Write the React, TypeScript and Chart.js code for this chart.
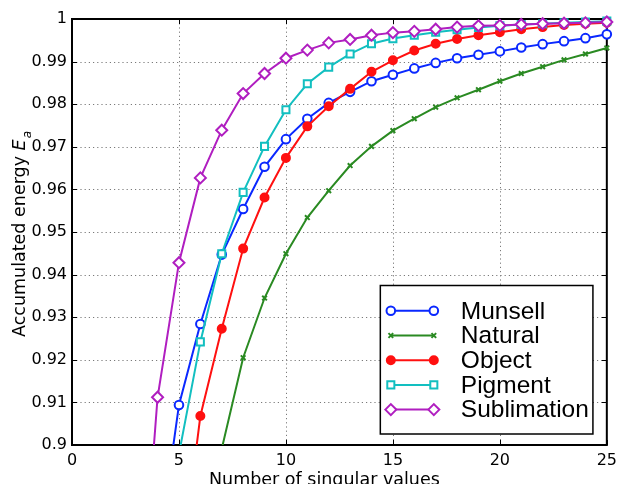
import React, { useEffect, useRef } from 'react';
import { Chart, registerables } from 'chart.js';

Chart.register(...registerables);

// ---------- data ----------
const singularValues = [3, 4, 5, 6, 7, 8, 9, 10, 11, 12, 13, 14, 15, 16, 17, 18, 19, 20, 21, 22, 23, 24, 25];

const munsell = [null, 0.8733, 0.9094, 0.9284, 0.9447, 0.9554, 0.9653, 0.9718, 0.9766, 0.9803, 0.9829, 0.9854, 0.9869, 0.9884, 0.9897, 0.9908, 0.9916, 0.9924, 0.9933, 0.9941, 0.9948, 0.9955, 0.9964];
const natural = [null, null, null, null, 0.8991, 0.9205, 0.9345, 0.9449, 0.9534, 0.9597, 0.9656, 0.9701, 0.9738, 0.9766, 0.9793, 0.9815, 0.9834, 0.9854, 0.9872, 0.9888, 0.9904, 0.9918, 0.9932];
const object = [null, null, 0.8668, 0.9068, 0.9273, 0.9461, 0.9581, 0.9674, 0.9748, 0.9795, 0.9836, 0.9876, 0.9903, 0.9926, 0.9942, 0.9953, 0.9962, 0.9969, 0.9976, 0.9981, 0.9986, 0.9989, 0.9991];
const pigment = [null, null, 0.8979, 0.9242, 0.9449, 0.9593, 0.9701, 0.9787, 0.9848, 0.9887, 0.9918, 0.9942, 0.9954, 0.9962, 0.9969, 0.9975, 0.998, 0.9984, 0.9987, 0.9989, 0.9991, 0.9993, 0.9995];
const sublimation = [0.845, 0.9112, 0.9428, 0.9627, 0.9739, 0.9825, 0.9872, 0.9908, 0.9927, 0.9944, 0.9952, 0.9962, 0.9968, 0.9971, 0.9976, 0.9981, 0.9984, 0.9985, 0.9987, 0.9989, 0.999, 0.9991, 0.9993];

const seriesNames = ['Munsell', 'Natural', 'Object', 'Pigment', 'Sublimation'];
const seriesValues = [munsell, natural, object, pigment, sublimation];

const xTicks = [0, 5, 10, 15, 20, 25];
const xTickLabels = ['0', '5', '10', '15', '20', '25'];
const yTicks = [0.9, 0.91, 0.92, 0.93, 0.94, 0.95, 0.96, 0.97, 0.98, 0.99, 1];
const yTickLabels = ['0.9', '0.91', '0.92', '0.93', '0.94', '0.95', '0.96', '0.97', '0.98', '0.99', '1'];

const xTitle = 'Number of singular values';
const yTitle = 'Accumulated energy ';
const yTitleSymbol = 'E';
const yTitleSub = 'a';

// ---------- styles ----------
const styles = [
  { color: '#0a28ff', shape: 'circle', radius: 4.3, fill: '#ffffff' },
  { color: '#2a8a22', shape: 'crossRot', radius: 3.3, fill: '#2a8a22' },
  { color: '#ff1010', shape: 'circle', radius: 4, fill: '#ff1010' },
  { color: '#12bfc0', shape: 'rect', radius: 5, fill: '#ffffff' },
  { color: '#b01ec0', shape: 'rectRot', radius: 5.5, fill: '#ffffff' },
];

const TICK_FONT = '16px "DejaVu Sans"';
const TITLE_FONT = '17.5px "DejaVu Sans"';
const LEGEND_FONT = '24.5px "Liberation Sans"';

function drawMarker(ctx: CanvasRenderingContext2D, shape: string, x: number, y: number, r: number, color: string, fill: string) {
  ctx.save();
  ctx.strokeStyle = color;
  ctx.fillStyle = fill;
  ctx.lineWidth = 2;
  ctx.beginPath();
  if (shape === 'circle') {
    ctx.arc(x, y, r, 0, Math.PI * 2);
    ctx.fill();
    ctx.stroke();
  } else if (shape === 'rect') {
    const s = Math.SQRT1_2 * r;
    ctx.rect(x - s, y - s, 2 * s, 2 * s);
    ctx.fill();
    ctx.stroke();
  } else if (shape === 'rectRot') {
    ctx.moveTo(x - r, y);
    ctx.lineTo(x, y - r);
    ctx.lineTo(x + r, y);
    ctx.lineTo(x, y + r);
    ctx.closePath();
    ctx.fill();
    ctx.stroke();
  } else {
    const d = Math.SQRT1_2 * r;
    ctx.moveTo(x - d, y - d);
    ctx.lineTo(x + d, y + d);
    ctx.moveTo(x + d, y - d);
    ctx.lineTo(x - d, y + d);
    ctx.stroke();
  }
  ctx.restore();
}

const framePlugin = {
  id: 'matlabFrame',
  beforeDatasetsDraw(chart: any) {
    const { ctx, chartArea: a, scales } = chart;
    const xs = scales.x;
    const ys = scales.y;
    ctx.save();
    // dotted grid
    ctx.strokeStyle = '#7a7a7a';
    ctx.lineWidth = 1;
    ctx.setLineDash([1.2, 3]);
    xTicks.forEach((v) => {
      const px = Math.round(xs.getPixelForValue(v)) + 0.5;
      if (px <= a.left + 2 || px >= a.right - 2) return;
      ctx.beginPath();
      ctx.moveTo(px, a.top);
      ctx.lineTo(px, a.bottom);
      ctx.stroke();
    });
    yTicks.forEach((v) => {
      const py = Math.round(ys.getPixelForValue(v)) + 0.5;
      if (py <= a.top + 2 || py >= a.bottom - 2) return;
      ctx.beginPath();
      ctx.moveTo(a.left, py);
      ctx.lineTo(a.right, py);
      ctx.stroke();
    });
    ctx.setLineDash([]);
    // inner ticks
    ctx.strokeStyle = '#000';
    ctx.lineWidth = 1;
    const tl = 5;
    xTicks.forEach((v) => {
      const px = Math.round(xs.getPixelForValue(v)) + 0.5;
      ctx.beginPath();
      ctx.moveTo(px, a.bottom);
      ctx.lineTo(px, a.bottom - tl);
      ctx.moveTo(px, a.top);
      ctx.lineTo(px, a.top + tl);
      ctx.stroke();
    });
    yTicks.forEach((v) => {
      const py = Math.round(ys.getPixelForValue(v)) + 0.5;
      ctx.beginPath();
      ctx.moveTo(a.left, py);
      ctx.lineTo(a.left + tl, py);
      ctx.moveTo(a.right, py);
      ctx.lineTo(a.right - tl, py);
      ctx.stroke();
    });
    // frame
    ctx.lineWidth = 2;
    ctx.strokeRect(a.left, a.top, a.right - a.left, a.bottom - a.top);
    ctx.restore();
  },
  afterDatasetsDraw(chart: any) {
    const { ctx, chartArea: a } = chart;
    ctx.save();
    // legend box
    const bx = a.right - 226.5;
    const by = a.bottom - 159.5;
    const bw = 212.6;
    const bh = 148.5;
    ctx.fillStyle = '#fff';
    ctx.fillRect(bx, by, bw, bh);
    ctx.strokeStyle = '#000';
    ctx.lineWidth = 1.5;
    ctx.strokeRect(bx, by, bw, bh);
    seriesNames.forEach((name, i) => {
      const st = styles[i];
      const y = by + 25.3 + i * 24.7;
      const x1 = bx + 10.5;
      const x2 = bx + 53.5;
      ctx.strokeStyle = st.color;
      ctx.lineWidth = 2;
      ctx.beginPath();
      ctx.moveTo(x1, y);
      ctx.lineTo(x2, y);
      ctx.stroke();
      drawMarker(ctx, st.shape, x1, y, st.radius, st.color, st.fill);
      drawMarker(ctx, st.shape, x2, y, st.radius, st.color, st.fill);
      ctx.fillStyle = '#000';
      ctx.font = LEGEND_FONT;
      ctx.textAlign = 'left';
      ctx.textBaseline = 'middle';
      ctx.fillText(name, bx + 80.5, y + 1);
    });
    ctx.restore();
  },
  afterDraw(chart: any) {
    const { ctx, chartArea: a } = chart;
    ctx.save();
    ctx.fillStyle = '#000';
    // x title
    ctx.font = TITLE_FONT;
    ctx.textAlign = 'center';
    ctx.textBaseline = 'alphabetic';
    ctx.fillText(xTitle, (a.left + a.right) / 2 - 15, 485);
    // y title (rotated) with italic E and subscript a
    ctx.translate(25, (a.top + a.bottom) / 2 + 2);
    ctx.rotate(-Math.PI / 2);
    ctx.font = TITLE_FONT;
    const w1 = ctx.measureText(yTitle).width;
    ctx.font = 'italic ' + TITLE_FONT;
    const w2 = ctx.measureText(yTitleSymbol).width;
    ctx.font = 'italic 12px "DejaVu Sans"';
    const w3 = ctx.measureText(yTitleSub).width;
    let x = -(w1 + w2 + w3 + 1) / 2;
    ctx.textAlign = 'left';
    ctx.font = TITLE_FONT;
    ctx.fillText(yTitle, x, 0);
    x += w1;
    ctx.font = 'italic ' + TITLE_FONT;
    ctx.fillText(yTitleSymbol, x, 0);
    x += w2 + 1;
    ctx.font = 'italic 12px "DejaVu Sans"';
    ctx.fillText(yTitleSub, x, 6);
    ctx.restore();
  },
};

export default function App() {
  const ref = useRef<HTMLCanvasElement | null>(null);

  useEffect(() => {
    if (!ref.current) return;
    const datasets = seriesNames.map((name, i) => {
      const st = styles[i];
      const vals = seriesValues[i];
      return {
        label: name,
        data: singularValues
          .map((x, k) => ({ x, y: vals[k] }))
          .filter((p) => p.y !== null),
        borderColor: st.color,
        backgroundColor: st.fill,
        borderWidth: 2,
        pointStyle: st.shape,
        pointRadius: st.radius,
        pointBorderWidth: 2,
        pointBorderColor: st.color,
        pointBackgroundColor: st.fill,
        tension: 0,
        order: seriesNames.length - i,
        clip: { left: 0, top: 8, right: 8, bottom: 0 },
      };
    });

    const chart = new Chart(ref.current, {
      type: 'line',
      data: { datasets } as any,
      plugins: [framePlugin],
      options: {
        animation: false,
        responsive: false,
        events: [],
        layout: { padding: { top: 19, right: 11, left: 0, bottom: 0 } },
        plugins: { legend: { display: false }, tooltip: { enabled: false } },
        scales: {
          x: {
            type: 'linear',
            min: 0,
            max: 25,
            afterBuildTicks: (s: any) => {
              s.ticks = xTicks.map((v) => ({ value: v }));
            },
            afterFit: (s: any) => {
              s.height = 39;
            },
            ticks: {
              font: { family: 'DejaVu Sans', size: 16 },
              color: '#000',
              padding: 6,
              maxRotation: 0,
              autoSkip: false,
              callback: (_v: any, i: number) => xTickLabels[i],
            },
            grid: { display: false, drawTicks: false },
            border: { display: false },
          },
          y: {
            type: 'linear',
            min: 0.9,
            max: 1,
            afterBuildTicks: (s: any) => {
              s.ticks = yTicks.map((v) => ({ value: v }));
            },
            afterFit: (s: any) => {
              s.width = 72;
            },
            ticks: {
              font: { family: 'DejaVu Sans', size: 16 },
              color: '#000',
              padding: 5,
              autoSkip: false,
              callback: (_v: any, i: number) => yTickLabels[i],
            },
            grid: { display: false, drawTicks: false },
            border: { display: false },
          },
        },
      } as any,
    });
    return () => chart.destroy();
  }, []);

  return (
    <div style={{ position: 'absolute', left: 0, top: 0, width: 623, height: 484, background: '#fff' }}>
      <canvas ref={ref} width={623} height={484} style={{ display: 'block' }} />
    </div>
  );
}
